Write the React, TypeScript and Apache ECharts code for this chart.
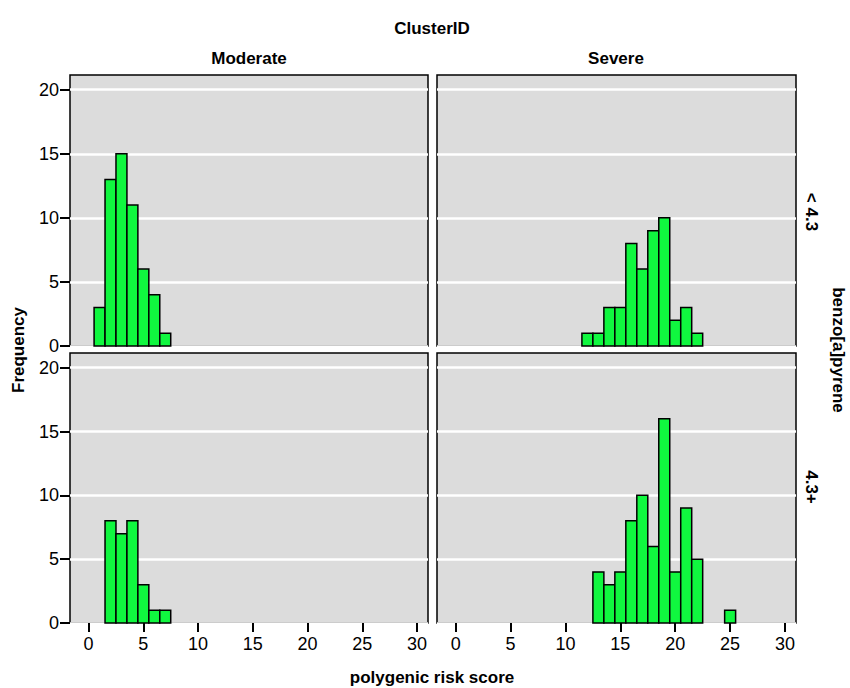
import React, { useEffect, useRef } from "react";
import * as echarts from "echarts";

// Histogram data: bin centre (polygenic risk score) and frequency
const modLowScores = [1, 2, 3, 4, 5, 6, 7];
const modLowFreq = [3, 13, 15, 11, 6, 4, 1];
const sevLowScores = [12, 13, 14, 15, 16, 17, 18, 19, 20, 21, 22];
const sevLowFreq = [1, 1, 3, 3, 8, 6, 9, 10, 2, 3, 1];
const modHighScores = [2, 3, 4, 5, 6, 7];
const modHighFreq = [8, 7, 8, 3, 1, 1];
const sevHighScores = [13, 14, 15, 16, 17, 18, 19, 20, 21, 22, 25];
const sevHighFreq = [4, 3, 4, 8, 10, 6, 16, 4, 9, 5, 1];

const xTicks = [0, 5, 10, 15, 20, 25, 30];
const yTicks = [0, 5, 10, 15, 20];

const columnLabels = ["Moderate", "Severe"];
const rowLabels = ["< 4.3", "4.3+"];

const FONT = "'Liberation Sans', Arial, sans-serif";
const GREEN = "#10f73f";

const zip = (a: number[], b: number[]) => a.map((v, i) => [v, b[i]]);

export default function App() {
  const ref = useRef<HTMLDivElement>(null);
  useEffect(() => {
    if (!ref.current) return;
    const chart = echarts.init(ref.current, null, { renderer: "svg" });
    const panels = [
      { data: zip(modLowScores, modLowFreq), left: 70, top: 75, w: 358, h: 271, isLeft: true, isBottom: false },
      { data: zip(sevLowScores, sevLowFreq), left: 437, top: 75, w: 359, h: 271, isLeft: false, isBottom: false },
      { data: zip(modHighScores, modHighFreq), left: 70, top: 353, w: 358, h: 270, isLeft: true, isBottom: true },
      { data: zip(sevHighScores, sevHighFreq), left: 437, top: 353, w: 359, h: 270, isLeft: false, isBottom: true },
    ];
    const option: any = {
      animation: false,
      grid: panels.map((p) => ({
        left: p.left,
        top: p.top,
        width: p.w,
        height: p.h,
        show: true,
        backgroundColor: "#dcdcdc",
        borderColor: "#000",
        borderWidth: 1.5,
      })),
      xAxis: panels.map((p, i) => ({
        gridIndex: i,
        type: "value",
        position: "bottom",
        min: -1.7,
        max: 31,
        axisLine: { show: false, onZero: false },
        axisTick: {
          show: p.isBottom,
          customValues: xTicks,
          length: 9,
          lineStyle: { color: "#000", width: 2 },
        },
        axisLabel: {
          show: p.isBottom,
          customValues: xTicks,
          fontSize: 18,
          fontFamily: FONT,
          color: "#000",
          margin: 12,
        },
        splitLine: { show: false },
      })),
      yAxis: panels.map((p, i) => ({
        gridIndex: i,
        type: "value",
        position: "left",
        min: 0,
        max: 21.15,
        interval: 5,
        axisLine: { show: false, onZero: false },
        axisTick: {
          show: p.isLeft,
          customValues: yTicks,
          length: 10,
          lineStyle: { color: "#000", width: 2 },
        },
        axisLabel: {
          show: p.isLeft,
          customValues: yTicks,
          fontSize: 18,
          fontFamily: FONT,
          color: "#000",
          margin: 11,
        },
        splitLine: { show: true, lineStyle: { color: "#ffffff", width: 2.5 } },
      })),
      series: panels.map((p, i) => ({
        type: "custom",
        xAxisIndex: i,
        yAxisIndex: i,
        data: p.data,
        encode: { x: 0, y: 1 },
        renderItem: (params: any, api: any) => {
          const x = api.value(0);
          const y = api.value(1);
          const p0 = api.coord([x - 0.5, y]);
          const p1 = api.coord([x + 0.5, 0]);
          return {
            type: "rect",
            shape: { x: p0[0], y: p0[1], width: p1[0] - p0[0], height: p1[1] - p0[1] },
            style: { fill: GREEN, stroke: "#000", lineWidth: 1.5 },
          };
        },
      })),
      graphic: [
        { type: "text", x: 432, y: 28, style: { text: "ClusterID", x: 0, y: 0, align: "center", verticalAlign: "middle", font: `bold 17px ${FONT}`, fill: "#000" } },
        { type: "text", x: 249, y: 58, style: { text: columnLabels[0], x: 0, y: 0, align: "center", verticalAlign: "middle", font: `bold 17px ${FONT}`, fill: "#000" } },
        { type: "text", x: 616, y: 58, style: { text: columnLabels[1], x: 0, y: 0, align: "center", verticalAlign: "middle", font: `bold 17px ${FONT}`, fill: "#000" } },
        { type: "text", x: 18, y: 350, rotation: Math.PI / 2, style: { text: "Frequency", x: 0, y: 0, align: "center", verticalAlign: "middle", font: `bold 17px ${FONT}`, fill: "#000" } },
        { type: "text", x: 811, y: 212, rotation: -Math.PI / 2, style: { text: rowLabels[0], x: 0, y: 0, align: "center", verticalAlign: "middle", font: `bold 17px ${FONT}`, fill: "#000" } },
        { type: "text", x: 811, y: 487, rotation: -Math.PI / 2, style: { text: rowLabels[1], x: 0, y: 0, align: "center", verticalAlign: "middle", font: `bold 17px ${FONT}`, fill: "#000" } },
        { type: "text", x: 838, y: 350, rotation: -Math.PI / 2, style: { text: "benzo[a]pyrene", x: 0, y: 0, align: "center", verticalAlign: "middle", font: `bold 17px ${FONT}`, fill: "#000" } },
        { type: "text", x: 432, y: 677, style: { text: "polygenic risk score", x: 0, y: 0, align: "center", verticalAlign: "middle", font: `bold 17px ${FONT}`, fill: "#000" } },
      ],
    };
    chart.setOption(option);
    return () => chart.dispose();
  }, []);
  return <div ref={ref} style={{ position: "absolute", left: 0, top: 0, width: 850, height: 688 }} />;
}
